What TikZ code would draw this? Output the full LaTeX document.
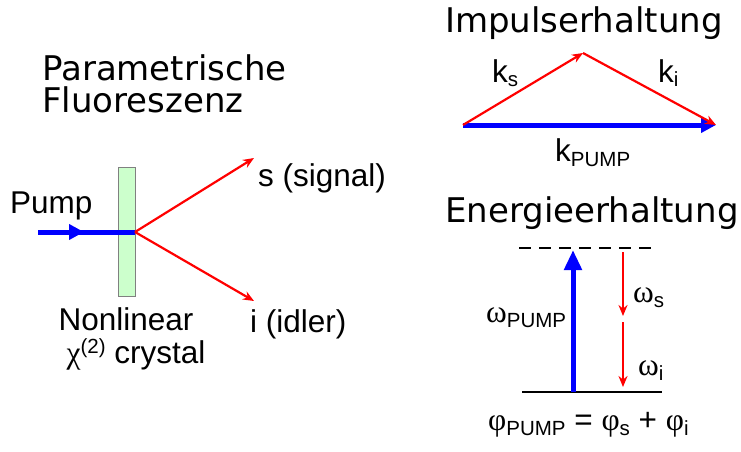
\documentclass[tikz,border=0pt]{standalone}
\usepackage{fontspec}
\setmainfont{Liberation Sans}
\newfontfamily\headfont{DejaVu Sans}
\newfontfamily\grk{Liberation Serif}
\usetikzlibrary{arrows.meta}
\definecolor{pumpblue}{RGB}{0,0,255}
\definecolor{sigred}{RGB}{255,0,0}
\definecolor{crystalgreen}{RGB}{204,255,204}
\newcommand\lowsub[1]{\raisebox{-0.3ex}{\fontsize{20.5}{24}\selectfont #1}}
\newcommand\highsup[1]{\raisebox{0.6ex}{\fontsize{20.5}{24}\selectfont #1}}
\begin{document}
\begin{tikzpicture}[x=1pt,y=-1pt,
  head/.style={font=\headfont\fontsize{34}{38}\selectfont, anchor=base west, inner sep=0},
  lbl/.style={font=\fontsize{31.5}{36}\selectfont, anchor=base west, inner sep=0},
  lblc/.style={font=\fontsize{31.5}{36}\selectfont, anchor=base, inner sep=0},
  bluebeam/.style={draw=pumpblue, line width=5},
  redbeam/.style={draw=sigred, line width=2.2, -{Stealth[length=11,width=9]}},
]
\useasboundingbox (0,0) rectangle (741,451);

% titles
\node[head] (t1) at (42,80) {Parametrische};
\node[head] (t2) at (42,112) {Fluoreszenz};
\node[head] (t3) at (445,32) {Impulserhaltung};
\node[head] (t4) at (445,222) {Energieerhaltung};

% left: crystal
\draw[fill=crystalgreen, draw=gray, line width=1] (118,167) rectangle (135,296);
\coordinate (pin) at (38,232);
\coordinate (pmid) at (84,232);
\coordinate (xo) at (135,232);
\coordinate (sig) at (254,158);
\coordinate (idl) at (254,301);
\draw[bluebeam] (pin) -- (xo);
\draw[bluebeam, -{Triangle[length=15,width=15]}] (pin) -- (pmid);
\draw[redbeam] (xo) -- (sig);
\draw[redbeam] (xo) -- (idl);
\node[lbl] (pump) at (10,213) {Pump};
\node[lbl] (slab) at (258,186) {s (signal)};
\node[lbl] (ilab) at (250,332) {i (idler)};
\node[lblc] (nl) at (126,330) {Nonlinear};
\node[lblc] (chi) at (136,363) {{\grk χ}\highsup{(2)} crystal};

% momentum triangle
\coordinate (L) at (463,125);
\coordinate (T) at (583,53);
\coordinate (R) at (716,125);
\draw[bluebeam, -{Triangle[length=15,width=15]}] (L) -- (R);
\draw[redbeam] (L) -- (T);
\draw[redbeam] (T) -- (R);
\node[lbl] (ks) at (492,82) {k\lowsub{s}};
\node[lbl] (ki) at (658,82) {k\lowsub{i}};
\node[lbl] (kp) at (555,161) {k\lowsub{PUMP}};

% energy diagram
\coordinate (dl) at (519,248);
\coordinate (dr) at (658,248);
\coordinate (gl) at (522,392);
\coordinate (gr) at (662,392);
\draw[line width=2.5, dash pattern=on 12 off 8] (dl) -- (dr);
\draw[line width=2.5] (gl) -- (gr);
\coordinate (pb) at (573,392);
\coordinate (pt) at (573,250);
\draw[bluebeam, -{Triangle[length=20,width=17]}] (pb) -- (pt);
\coordinate (r1a) at (623,252);
\coordinate (r1b) at (623,316);
\coordinate (r2a) at (623,322);
\coordinate (r2b) at (623,387);
\draw[redbeam] (r1a) -- (r1b);
\draw[redbeam] (r2a) -- (r2b);
\node[lbl] (ws) at (633,302) {{\grk ω}\lowsub{s}};
\node[lbl] (wi) at (638,375) {{\grk ω}\lowsub{i}};
\node[lbl] (wp) at (486,322) {{\grk ω}\lowsub{PUMP}};
\node[lbl] (eq) at (488,430) {{\grk φ}\lowsub{PUMP} = {\grk φ}\lowsub{s} + {\grk φ}\lowsub{i}};
\end{tikzpicture}
\end{document}
